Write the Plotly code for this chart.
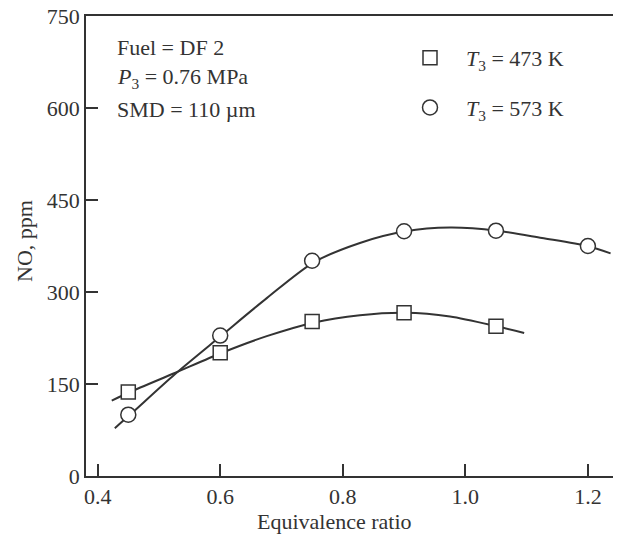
import plotly.graph_objects as go

# Measured data (markers)
phi_473 = [0.45, 0.60, 0.75, 0.90, 1.05]
no_473 = [137, 201, 252, 266, 244]
phi_573 = [0.45, 0.60, 0.75, 0.90, 1.05, 1.20]
no_573 = [100, 229, 351, 399, 400, 375]

# Fitted curves
fit_x_473 = [0.423, 0.453, 0.526, 0.603, 0.676, 0.752, 0.828, 0.901, 0.975, 1.051, 1.096]
fit_y_473 = [123, 137, 168, 201, 228, 250, 262, 266, 260, 244, 233]
fit_x_573 = [0.428, 0.454, 0.526, 0.602, 0.676, 0.752, 0.828, 0.902, 0.975, 1.052, 1.125, 1.199, 1.237]
fit_y_573 = [78, 101, 166, 229, 290, 348, 380, 399, 405, 400, 388, 375, 363]

x_ticks = [0.4, 0.6, 0.8, 1.0, 1.2]
x_tick_labels = ["0.4", "0.6", "0.8", "1.0", "1.2"]
y_ticks = [0, 150, 300, 450, 600, 750]

FONT = "Liberation Serif"
FS = 22
INK = "#333333"

OFF = 8  # page body margin
W, H = 621, 540
L, T = 86 - OFF, 16 - OFF
B = H - (476 - OFF)
R = OFF
PW, PH = W - L - R, H - T - B


def px(sx):
    return (sx - OFF - L) / PW


def py(sy):
    return (H - B - (sy - OFF)) / PH


fig = go.Figure()
fig.add_trace(go.Scatter(x=fit_x_473, y=fit_y_473, mode="lines",
                         line=dict(color=INK, width=2, shape="spline", smoothing=0.8),
                         showlegend=False, hoverinfo="skip"))
fig.add_trace(go.Scatter(x=fit_x_573, y=fit_y_573, mode="lines",
                         line=dict(color=INK, width=2, shape="spline", smoothing=0.8),
                         showlegend=False, hoverinfo="skip"))
fig.add_trace(go.Scatter(x=phi_473, y=no_473, mode="markers", name="<i>T</i><sub>3</sub> = 473 K",
                         legendgroup="a",
                         marker=dict(symbol="square", size=14, color="white", line=dict(color=INK, width=1.5))))
fig.add_trace(go.Scatter(x=phi_573, y=no_573, mode="markers", name="<i>T</i><sub>3</sub> = 573 K",
                         legendgroup="b",
                         marker=dict(symbol="circle", size=15, color="white", line=dict(color=INK, width=1.5))))

notes = ["Fuel = DF 2", "<i>P</i><sub>3</sub> = 0.76 MPa", "SMD = 110 µm"]
note_y = [47, 78, 109]
for txt, yy in zip(notes, note_y):
    fig.add_annotation(text=txt, xref="paper", yref="paper", x=px(115), y=py(yy),
                       xanchor="left", yanchor="middle", showarrow=False,
                       font=dict(family=FONT, size=FS, color=INK))

fig.add_annotation(text="Equivalence ratio", xref="paper", yref="paper", x=px(334), y=py(521),
                   xanchor="center", yanchor="middle", showarrow=False,
                   font=dict(family=FONT, size=FS, color=INK))
fig.add_annotation(text="NO, ppm", xref="paper", yref="paper", x=px(25), y=py(241), textangle=-90,
                   xanchor="center", yanchor="middle", showarrow=False,
                   font=dict(family=FONT, size=FS, color=INK))

fig.update_layout(
    width=W, height=H,
    margin=dict(l=L, r=R, t=T, b=B, autoexpand=False),
    paper_bgcolor="white", plot_bgcolor="white",
    font=dict(family=FONT, size=FS, color=INK),
    legend=dict(x=px(394), y=py(37), xanchor="left", yanchor="top",
                bgcolor="rgba(0,0,0,0)", tracegroupgap=18, itemwidth=62,
                font=dict(family=FONT, size=FS, color=INK)),
)
fig.update_xaxes(range=[0.381, 1.254], tickvals=x_ticks, ticktext=x_tick_labels,
                 ticks="inside", ticklen=12, tickwidth=1.5, tickcolor=INK, ticklabeloverflow="allow",
                 showline=True, linecolor=INK, linewidth=1.5, mirror=True, automargin=False,
                 showgrid=False, zeroline=False, tickfont=dict(family=FONT, size=FS, color=INK))
fig.update_yaxes(range=[0, 750], tickvals=y_ticks,
                 ticks="inside", ticklen=12, tickwidth=1.5, tickcolor=INK, ticklabeloverflow="allow",
                 showline=True, linecolor=INK, linewidth=1.5, automargin=False,
                 showgrid=False, zeroline=False, tickfont=dict(family=FONT, size=FS, color=INK))

fig.write_html("out.html")
